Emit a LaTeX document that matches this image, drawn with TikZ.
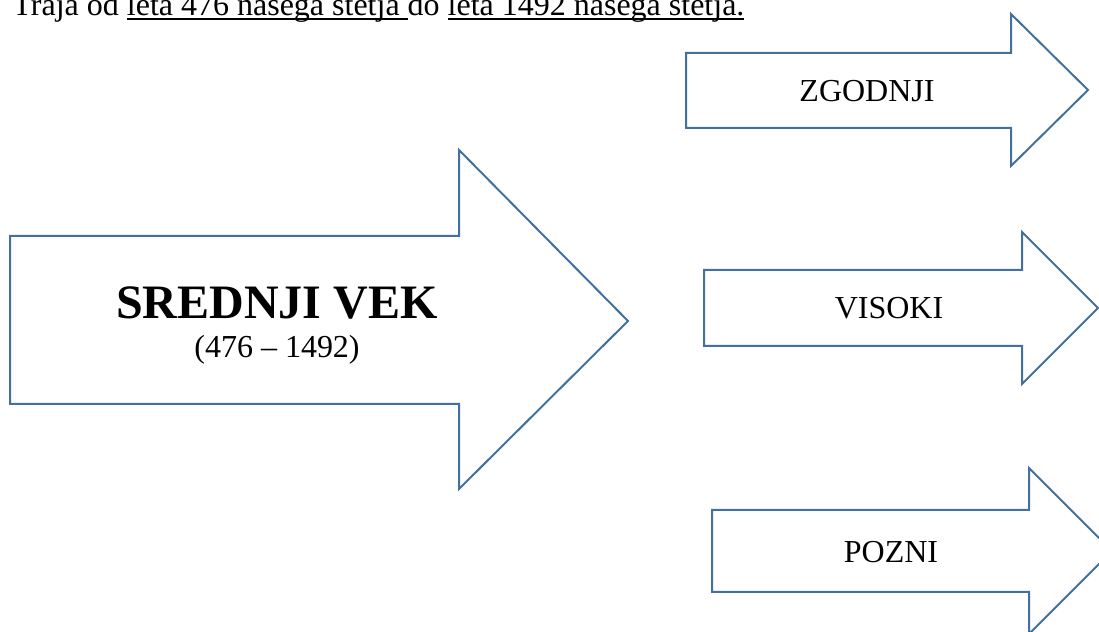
\documentclass[tikz,border=0pt]{standalone}
\usepackage{fontspec}
\setmainfont{Liberation Serif}
\usepackage{tikz}
\usetikzlibrary{positioning}
\definecolor{arrowblue}{RGB}{65,113,156}
\newcommand{\ulword}[1]{\setbox0\hbox{#1}\rlap{\rule[-1.6pt]{\wd0}{0.7pt}}\box0}

\begin{document}
\begin{tikzpicture}[x=0.375pt,y=-0.375pt,
    blockarrow/.style={draw=arrowblue,line width=0.75pt,line join=miter,fill=white},
    periodtext/.style={font=\fontsize{12}{14}\selectfont,inner sep=0pt,anchor=base},
    titletext/.style={font=\fontsize{18}{21}\selectfont\bfseries,inner sep=0pt,anchor=base}]
\useasboundingbox (0,0) rectangle (1099,632);
\clip (0,0) rectangle (1099,632);

% intro line
\node[periodtext,anchor=base west] (intro) at (12,16)
    {Traja od \ulword{leta 476 našega štetja }do \ulword{leta 1492 našega štetja.}};

% big arrow
\draw[blockarrow] (10,236) -- (459,236) -- (459,150) -- (628,321)
    -- (459,489) -- (459,404) -- (10,404) -- cycle;
\node[titletext] (srednji) at (277,319) {SREDNJI VEK};
\node[periodtext] (years) at (277,358) {(476 – 1492)};

% three periods
\draw[blockarrow] (686,53) -- (1011,53) -- (1011,14) -- (1088,90)
    -- (1011,166) -- (1011,128) -- (686,128) -- cycle;
\node[periodtext] (zgodnji) at (867,102) {ZGODNJI};

\draw[blockarrow] (704,270) -- (1022,270) -- (1022,232) -- (1098,308)
    -- (1022,384) -- (1022,346) -- (704,346) -- cycle;
\node[periodtext] (visoki) at (889,319) {VISOKI};

\draw[blockarrow] (712,510) -- (1029,510) -- (1029,468) -- (1112,551)
    -- (1029,634) -- (1029,592) -- (712,592) -- cycle;
\node[periodtext] (pozni) at (891,563) {POZNI};
\end{tikzpicture}
\end{document}
